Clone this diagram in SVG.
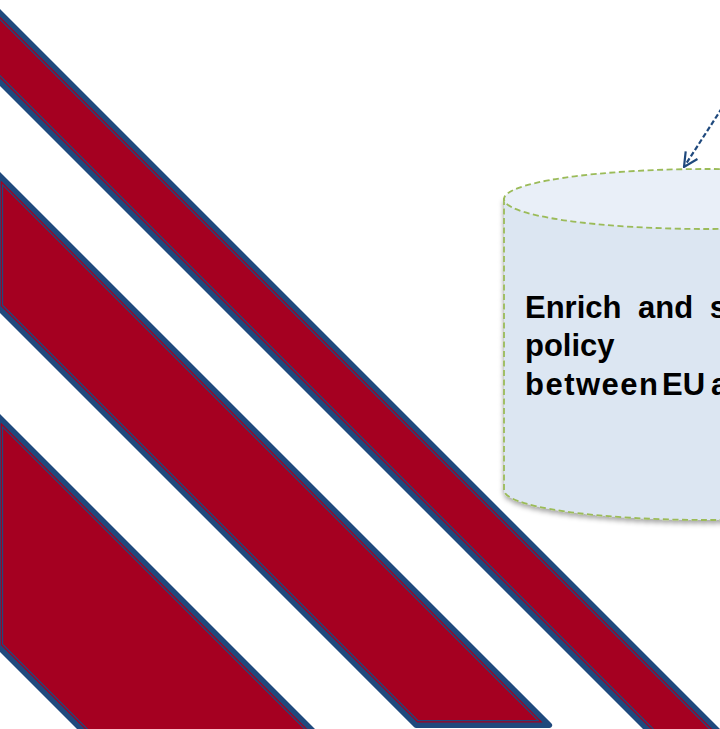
<svg xmlns="http://www.w3.org/2000/svg" width="720" height="729" viewBox="0 0 720 729">
<defs>
<style>
.band{fill:#A50021;stroke:#1F497D;stroke-width:5.5;stroke-linejoin:round}
.inner{fill:none;stroke:#1F497D;stroke-width:1.2;stroke-linejoin:miter}
.cyl{stroke:#9BBB59;stroke-width:1.8;stroke-dasharray:6 3.5}
.lbl{font-family:"Liberation Sans",Arial,sans-serif;font-weight:bold;font-size:31px;fill:#000}
.conn{fill:none;stroke:#1F497D;stroke-width:2.2;stroke-dasharray:5 2.5}
</style>
<filter id="shadow" x="-10%" y="-10%" width="130%" height="130%">
<feGaussianBlur in="SourceAlpha" stdDeviation="2.5"/>
<feOffset dx="0" dy="3" result="b"/>
<feFlood flood-color="#000" flood-opacity="0.35"/>
<feComposite in2="b" operator="in"/>
<feMerge><feMergeNode/><feMergeNode in="SourceGraphic"/></feMerge>
</filter>
<marker id="open" viewBox="0 0 16 16" refX="15" refY="8" markerWidth="16" markerHeight="16" markerUnits="userSpaceOnUse" orient="auto">
<path d="M1,1 L15,8 L1,15" fill="none" stroke="#1F497D" stroke-width="2.2"/>
</marker>
</defs>
<rect width="720" height="729" fill="#fff"/>
<g id="band1">
<path class="band" d="M-100,-87.1 L900,912.9 L900,982.1 L-100,-17.9 Z"/>
<path class="inner" d="M-100,-80.7 L900,919.3 L900,975.7 L-100,-24.3 Z"/>
</g>
<g id="band2">
<path class="band" d="M-2,173.9 L549.35,725.25 L416.15,725.25 L-2,307.1 Z"/>
<path class="inner" d="M2.55,184.85 L538.4,720.7 L418,720.7 L2.55,305.25 Z"/>
</g>
<g id="band3">
<path class="band" d="M-2,415.9 L400,817.9 L400,1048.1 L-2,646.1 Z"/>
<path class="inner" d="M2.55,426.85 L400,824.3 L400,1041.7 L2.55,644.25 Z"/>
</g>
<g id="cylinder">
<path class="cyl" d="M504,199 V490 A204,30 0 0 0 912,490 V199 Z" fill="#DCE6F2" filter="url(#shadow)"/>
<ellipse class="cyl" cx="708" cy="199" rx="204" ry="30" fill="#E9EFF8"/>
<text class="lbl" x="525" y="318" word-spacing="8">Enrich and s</text>
<text class="lbl" x="525" y="356">policy</text>
<text class="lbl" y="395"><tspan x="525" textLength="133" lengthAdjust="spacing">between</tspan><tspan x="662">EU</tspan><tspan x="711">a</tspan></text>
</g>
<g id="connectors">
<path class="conn" d="M722,108 L684,167" marker-end="url(#open)"/>
</g>
</svg>
